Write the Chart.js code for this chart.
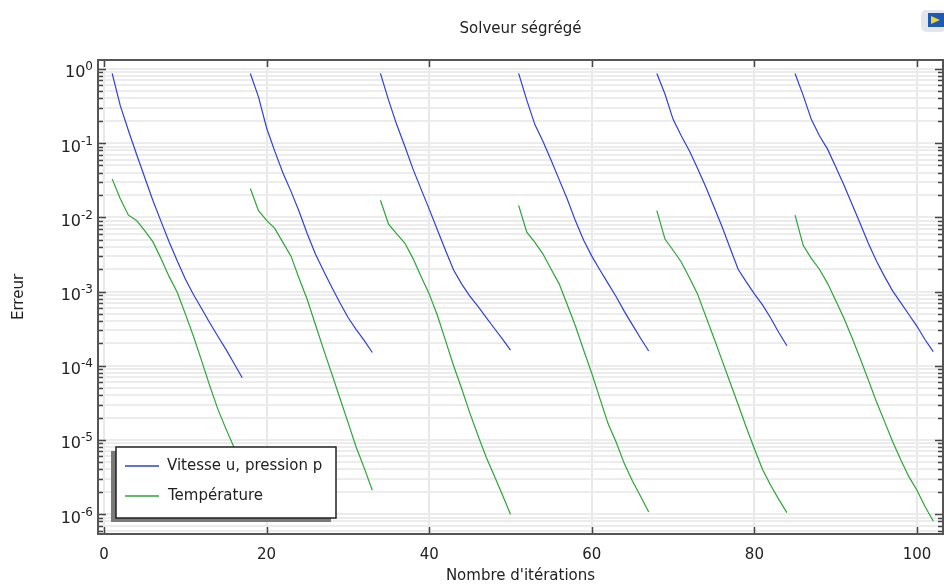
<!DOCTYPE html>
<html>
<head>
<meta charset="utf-8">
<script src="https://cdn.jsdelivr.net/npm/chart.js@4"></script>
<style>
  html, body { margin: 0; padding: 0; background: #fff; }
  #wrap { width: 944px; height: 586px; }
</style>
</head>
<body>
<div id="wrap"><canvas id="chart" width="944" height="586"></canvas></div>
<script>
const chartTitle = 'Solveur ségrégé';
const xTitle = "Nombre d'itérations";
const yTitle = 'Erreur';
const seriesNames = ['Vitesse u, pression p', 'Température'];
const seriesColors = ['#3040d8', '#2ba636'];

// first iteration of each solver restart
const cycleStart = [1, 18, 34, 51, 68, 85];

// error per iteration, one list per restart
const velocityErr = [
  [0.87, 0.32, 0.148, 0.071, 0.0347, 0.017, 0.0089, 0.0047, 0.0026, 0.00148, 9.1e-4, 5.9e-4, 3.8e-4, 2.5e-4, 1.66e-4, 1.07e-4, 6.9e-5],
  [0.87, 0.42, 0.16, 0.078, 0.040, 0.0224, 0.012, 0.006, 0.0032, 0.0019, 0.00115, 7.1e-4, 4.5e-4, 3.1e-4, 2.2e-4, 1.51e-4],
  [0.87, 0.38, 0.178, 0.091, 0.045, 0.024, 0.0129, 0.0068, 0.0036, 0.00195, 0.00126, 8.7e-4, 6.3e-4, 4.5e-4, 3.2e-4, 2.3e-4, 1.62e-4],
  [0.87, 0.38, 0.178, 0.105, 0.059, 0.032, 0.0174, 0.0089, 0.0049, 0.003, 0.00195, 0.00129, 8.5e-4, 5.4e-4, 3.55e-4, 2.35e-4, 1.58e-4],
  [0.87, 0.46, 0.209, 0.126, 0.079, 0.046, 0.026, 0.0141, 0.0076, 0.0039, 0.002, 0.00135, 9.3e-4, 6.6e-4, 4.4e-4, 2.8e-4, 1.86e-4],
  [0.87, 0.44, 0.209, 0.126, 0.083, 0.048, 0.0275, 0.0151, 0.0083, 0.0045, 0.0026, 0.0016, 0.00102, 7.1e-4, 4.9e-4, 3.4e-4, 2.24e-4, 1.55e-4]
];
const temperatureErr = [
  [0.033, 0.0178, 0.0107, 0.0091, 0.0066, 0.0047, 0.0028, 0.0016, 9.8e-4, 5.0e-4, 2.5e-4, 1.17e-4, 5.4e-5, 2.6e-5, 1.41e-5, 7.9e-6, 4.2e-6],
  [0.0245, 0.0123, 0.0091, 0.0071, 0.0046, 0.003, 0.0015, 7.8e-4, 3.6e-4, 1.66e-4, 7.9e-5, 3.7e-5, 1.74e-5, 8.1e-6, 4.2e-6, 2.1e-6],
  [0.017, 0.0081, 0.006, 0.0045, 0.0028, 0.0016, 9.3e-4, 4.8e-4, 2.2e-4, 1.0e-4, 4.9e-5, 2.3e-5, 1.15e-5, 5.9e-6, 3.3e-6, 1.82e-6, 1.0e-6],
  [0.0145, 0.0063, 0.0046, 0.0032, 0.002, 0.00126, 6.6e-4, 3.4e-4, 1.62e-4, 7.9e-5, 3.6e-5, 1.66e-5, 9.3e-6, 4.8e-6, 2.8e-6, 1.74e-6, 1.07e-6],
  [0.0123, 0.0051, 0.0036, 0.0025, 0.00155, 9.3e-4, 4.7e-4, 2.4e-4, 1.2e-4, 6.0e-5, 3.0e-5, 1.48e-5, 7.6e-6, 4.0e-6, 2.45e-6, 1.58e-6, 1.05e-6],
  [0.0107, 0.0042, 0.0028, 0.002, 0.00129, 7.6e-4, 4.4e-4, 2.4e-4, 1.26e-4, 6.5e-5, 3.3e-5, 1.78e-5, 9.5e-6, 5.4e-6, 3.2e-6, 2.1e-6, 1.26e-6, 8.1e-7]
];

const xTicks = [0, 20, 40, 60, 80, 100];
const yDecades = [1e-7, 1e-6, 1e-5, 1e-4, 1e-3, 1e-2, 1e-1, 1];
const yDecadeExp = ['-7', '-6', '-5', '-4', '-3', '-2', '-1', '0'];
const xRange = [-0.74, 103.2];
const yRange = [5.4e-7, 1.32];

Chart.defaults.font.family = '"DejaVu Sans", sans-serif';
Chart.defaults.font.size = 15;
Chart.defaults.color = '#222';

const datasets = [];
[velocityErr, temperatureErr].forEach((series, s) => {
  series.forEach((cycle, c) => {
    datasets.push({
      label: seriesNames[s],
      data: cycle.map((v, i) => ({ x: cycleStart[c] + i, y: v })),
      borderColor: seriesColors[s],
      borderWidth: 1.2,
      pointRadius: 0,
      fill: false
    });
  });
});

// all log grid positions: 1..9 x each decade, inside the range
const yGrid = [];
yDecades.forEach(d => {
  for (let m = 1; m <= 9; m++) {
    const v = m * d;
    if (v >= yRange[0] && v <= yRange[1]) yGrid.push(v);
  }
});

function decadeIndex(v) {
  return yDecades.findIndex(d => Math.abs(v - d) / d < 1e-6);
}

// inward tick marks, frame, and 10^n labels with a real superscript
const frameTicks = {
  id: 'frameTicks',
  afterDatasetsDraw(chart) {
    const { ctx, chartArea: a, scales: { x, y } } = chart;
    ctx.save();
    ctx.strokeStyle = '#444';
    ctx.lineWidth = 1.5;
    ctx.beginPath();
    yGrid.forEach(v => {
      const py = Math.round(y.getPixelForValue(v)) + 0.5;
      const len = decadeIndex(v) >= 0 ? 8 : 5;
      ctx.moveTo(a.left, py); ctx.lineTo(a.left + len, py);
      ctx.moveTo(a.right, py); ctx.lineTo(a.right - len, py);
    });
    xTicks.forEach(v => {
      const px = Math.round(x.getPixelForValue(v)) + 0.5;
      ctx.moveTo(px, a.bottom); ctx.lineTo(px, a.bottom - 7);
      ctx.moveTo(px, a.top); ctx.lineTo(px, a.top + 7);
    });
    ctx.stroke();
    ctx.strokeStyle = '#555';
    ctx.lineWidth = 2;
    ctx.strokeRect(a.left, a.top, a.right - a.left, a.bottom - a.top);

    ctx.fillStyle = '#222';
    ctx.textBaseline = 'alphabetic';
    ctx.textAlign = 'left';
    yDecades.forEach((d, i) => {
      if (d < yRange[0] || d > yRange[1]) return;
      const py = y.getPixelForValue(d);
      ctx.font = '12px "DejaVu Sans", sans-serif';
      const ew = ctx.measureText(yDecadeExp[i]).width;
      ctx.font = '16px "DejaVu Sans", sans-serif';
      const bw = ctx.measureText('10').width;
      const right = a.left - 5;
      ctx.fillText('10', right - ew - bw, py + 8.5);
      ctx.font = '12px "DejaVu Sans", sans-serif';
      ctx.fillText(yDecadeExp[i], right - ew, py + 1.5);
    });
    ctx.restore();
  }
};

// boxed legend with drop shadow, inside the plot
const boxLegend = {
  id: 'boxLegend',
  afterDraw(chart) {
    const { ctx } = chart;
    const bx = 116, by = 447, bw = 220, bh = 71;
    ctx.save();
    ctx.fillStyle = '#7a7a7a';
    ctx.fillRect(bx - 5, by + 4, bw, bh);
    ctx.fillStyle = '#fff';
    ctx.fillRect(bx, by, bw, bh);
    ctx.strokeStyle = '#222';
    ctx.lineWidth = 1.5;
    ctx.strokeRect(bx, by, bw, bh);
    ctx.font = '15px "DejaVu Sans", sans-serif';
    ctx.textBaseline = 'middle';
    seriesNames.forEach((name, i) => {
      const ly = by + 19 + i * 30;
      ctx.strokeStyle = seriesColors[i];
      ctx.lineWidth = 1.3;
      ctx.beginPath();
      ctx.moveTo(bx + 9, ly); ctx.lineTo(bx + 43, ly);
      ctx.stroke();
      ctx.fillStyle = '#222';
      ctx.fillText(name, bx + 51 + i, ly);
    });

    // small toolbar icon, top right
    ctx.fillStyle = '#e3e6ea';
    ctx.beginPath();
    ctx.roundRect(921, 10, 25, 22, 5);
    ctx.fill();
    ctx.fillStyle = '#1d59b5';
    ctx.fillRect(928, 13, 16, 14);
    ctx.fillStyle = '#f2d22a';
    ctx.beginPath();
    ctx.moveTo(931, 16); ctx.lineTo(940, 20); ctx.lineTo(931, 24);
    ctx.closePath();
    ctx.fill();
    ctx.restore();
  }
};

new Chart(document.getElementById('chart'), {
  type: 'line',
  data: { datasets },
  options: {
    responsive: false,
    animation: false,
    layout: { padding: { top: 0, right: 1, left: 0, bottom: 0 } },
    plugins: {
      legend: { display: false },
      tooltip: { enabled: false },
      title: {
        display: true,
        text: chartTitle,
        fullSize: false,
        font: { size: 15, weight: 'normal' },
        color: '#222',
        padding: { top: 20, bottom: 22 }
      }
    },
    scales: {
      x: {
        type: 'linear',
        min: xRange[0],
        max: xRange[1],
        afterFit: s => { s.height = 52; },
        afterBuildTicks: s => { s.ticks = xTicks.map(v => ({ value: v })); },
        ticks: { padding: 12, autoSkip: false, maxRotation: 0, color: '#222' },
        grid: { color: '#e8e8e8', lineWidth: 2, drawTicks: false },
        border: { display: true, color: '#444', width: 2 },
        title: { display: true, text: xTitle, color: '#222', font: { size: 15 }, padding: { top: 0, bottom: 1 } }
      },
      y: {
        type: 'logarithmic',
        min: yRange[0],
        max: yRange[1],
        afterFit: s => { s.width = 98; },
        afterBuildTicks: s => { s.ticks = yGrid.map(v => ({ value: v, major: decadeIndex(v) >= 0 })); },
        ticks: { padding: 5, autoSkip: false, callback: () => '' },
        grid: { color: '#ececec', lineWidth: 2, drawTicks: false },
        border: { display: true, color: '#444', width: 2 },
        title: { display: true, text: yTitle, color: '#222', font: { size: 15 }, padding: { top: 10 } }
      }
    }
  },
  plugins: [frameTicks, boxLegend]
});
</script>
</body>
</html>
